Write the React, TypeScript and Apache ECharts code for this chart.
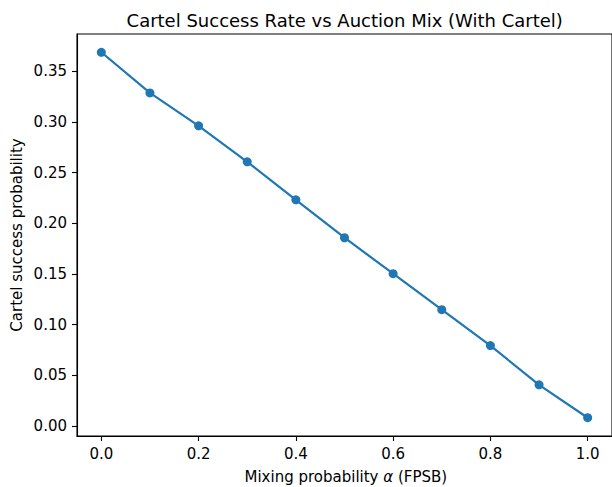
import React, { useEffect, useRef } from "react";
import * as echarts from "echarts";

const alphaValues = [0.0, 0.1, 0.2, 0.3, 0.4, 0.5, 0.6, 0.7, 0.8, 0.9, 1.0];
const successRate = [0.3685, 0.3284, 0.296, 0.2605, 0.2231, 0.1857, 0.1503, 0.1148, 0.0794, 0.0407, 0.0083];
const xTicks = [0.0, 0.2, 0.4, 0.6, 0.8, 1.0];
const yTicks = [0.0, 0.05, 0.1, 0.15, 0.2, 0.25, 0.3, 0.35];

const FONT = "DejaVu Sans";
const TICK_FS = 15;

export default function App() {
  const ref = useRef<HTMLDivElement>(null);
  useEffect(() => {
    if (!ref.current) return;
    const chart = echarts.init(ref.current, null, { renderer: "svg" });
    const yLo = Math.min(...successRate);
    const yHi = Math.max(...successRate);
    const yPad = (yHi - yLo) * 0.05;
    const xPad = 0.05;
    const axisCommon = {
      axisLine: { show: true, onZero: false, lineStyle: { color: "#000", width: 1.1 } },
      axisTick: { show: true, length: 5, lineStyle: { color: "#000", width: 1.1 } },
      splitLine: { show: false },
    };
    chart.setOption({
      animation: false,
      backgroundColor: "#fff",
      graphic: [
        {
          type: "text",
          x: 344.7,
          y: 20,
          style: {
            text: "Cartel Success Rate vs Auction Mix (With Cartel)",
            fontFamily: FONT,
            fontSize: 18,
            fill: "#000",
            align: "center",
            verticalAlign: "middle",
          },
        },
        {
          type: "text",
          x: 17,
          y: 235,
          rotation: Math.PI / 2,
          style: {
            text: "Cartel success probability",
            fontFamily: FONT,
            fontSize: TICK_FS,
            fill: "#000",
            align: "center",
            verticalAlign: "middle",
          },
        },
        {
          type: "text",
          x: 345.8,
          y: 477,
          style: {
            text: "Mixing probability {a|α} (FPSB)",
            fontFamily: FONT,
            fontSize: TICK_FS,
            fill: "#000",
            align: "center",
            verticalAlign: "middle",
            rich: {
              a: { fontFamily: FONT, fontSize: TICK_FS, fontStyle: "italic", fill: "#000" },
            },
          },
        },
      ],
      grid: {
        left: 77,
        top: 34,
        width: 537.7,
        height: 402,
        show: true,
        borderColor: "#000",
        borderWidth: 1.1,
        containLabel: false,
      },
      xAxis: {
        type: "value",
        min: alphaValues[0] - xPad,
        max: alphaValues[alphaValues.length - 1] + xPad,
        ...axisCommon,
        axisTick: { ...axisCommon.axisTick, customValues: xTicks },
        axisLabel: {
          customValues: xTicks,
          margin: 10,
          fontFamily: FONT,
          fontSize: TICK_FS,
          color: "#000",
          formatter: (v: number) => v.toFixed(1),
        },
      },
      yAxis: {
        type: "value",
        min: yLo - yPad,
        max: yHi + yPad,
        ...axisCommon,
        axisTick: { ...axisCommon.axisTick, customValues: yTicks },
        axisLabel: {
          customValues: yTicks,
          margin: 10,
          fontFamily: FONT,
          fontSize: TICK_FS,
          color: "#000",
          formatter: (v: number) => v.toFixed(2),
        },
      },
      series: [
        {
          type: "line",
          data: alphaValues.map((a, i) => [a, successRate[i]]),
          symbol: "circle",
          symbolSize: 9,
          showSymbol: true,
          lineStyle: { color: "#1f77b4", width: 2.2 },
          itemStyle: { color: "#1f77b4", borderWidth: 0 },
          emphasis: { disabled: true },
        },
      ],
    });
    return () => chart.dispose();
  }, []);
  return (
    <div
      ref={ref}
      style={{ position: "absolute", left: 0, top: 0, width: 612, height: 487 }}
    />
  );
}
